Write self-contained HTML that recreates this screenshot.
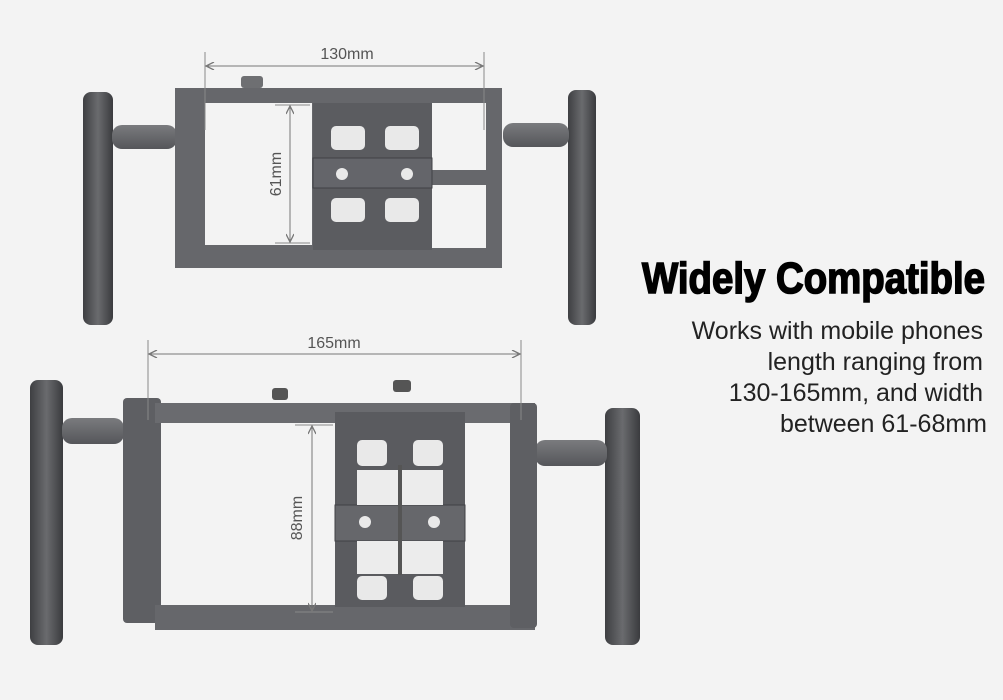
<!DOCTYPE html>
<html><head><style>
html,body{margin:0;padding:0;background:#f3f3f3;width:1003px;height:700px;overflow:hidden}
svg{position:absolute;left:0;top:0}
.t{font-family:"Liberation Sans",sans-serif}
</style></head><body>
<svg width="1003" height="700" viewBox="0 0 1003 700" xmlns="http://www.w3.org/2000/svg">
<defs>
<linearGradient id="h" x1="0" x2="1"><stop offset="0" stop-color="#3e3f42"/><stop offset=".5" stop-color="#6a6b6e"/><stop offset="1" stop-color="#3a3b3e"/></linearGradient>
<linearGradient id="m" x1="0" y1="0" x2="0" y2="1"><stop offset="0" stop-color="#7a7b7e"/><stop offset="1" stop-color="#55565a"/></linearGradient>
<marker id="a" markerWidth="10" markerHeight="8" refX="9" refY="4" orient="auto-start-reverse" markerUnits="userSpaceOnUse"><path d="M1,0 L9,4 L1,8" fill="none" stroke="#777" stroke-width="1.3"/></marker>
</defs>
<!-- TOP RIG -->
<rect x="83" y="92" width="30" height="233" rx="8" fill="url(#h)"/>
<rect x="112" y="125" width="65" height="24" rx="10" fill="url(#m)"/>
<rect x="568" y="90" width="28" height="235" rx="8" fill="url(#h)"/>
<rect x="503" y="123" width="66" height="24" rx="10" fill="url(#m)"/>
<path fill-rule="evenodd" fill="#66676b" d="M175,88 H502 V268 H175 Z M205,103 H312 V245 H205 Z M432,103 H486 V170 H432 Z M432,185 H486 V248 H432 Z"/>
<rect x="313" y="103" width="119" height="147" fill="#5b5c60"/>
<rect x="313" y="158" width="119" height="30" fill="#64656a" stroke="#404145"/>
<rect x="331" y="126" width="34" height="24" rx="5" fill="#e9e9e9"/><rect x="385" y="126" width="34" height="24" rx="5" fill="#e9e9e9"/>
<rect x="331" y="198" width="34" height="24" rx="5" fill="#e9e9e9"/><rect x="385" y="198" width="34" height="24" rx="5" fill="#e9e9e9"/>
<circle cx="342" cy="174" r="6" fill="#e9e9e9"/><circle cx="407" cy="174" r="6" fill="#e9e9e9"/>
<rect x="241" y="76" width="22" height="12" rx="3" fill="#6e6f72"/>
<!-- dims top -->
<line x1="205" y1="52" x2="205" y2="130" stroke="#888"/><line x1="484" y1="52" x2="484" y2="130" stroke="#888"/>
<line x1="206" y1="66" x2="483" y2="66" stroke="#777" marker-start="url(#a)" marker-end="url(#a)"/>
<text x="347" y="59" class="t" font-size="16" fill="#555" text-anchor="middle">130mm</text>
<line x1="275" y1="105" x2="310" y2="105" stroke="#888"/><line x1="275" y1="243" x2="310" y2="243" stroke="#888"/>
<line x1="290" y1="106" x2="290" y2="242" stroke="#777" marker-start="url(#a)" marker-end="url(#a)"/>
<text x="281" y="174" class="t" font-size="16" fill="#555" text-anchor="middle" transform="rotate(-90 281 174)">61mm</text>
<!-- BOTTOM RIG -->
<rect x="30" y="380" width="33" height="265" rx="8" fill="url(#h)"/>
<rect x="62" y="418" width="62" height="26" rx="10" fill="url(#m)"/>
<rect x="605" y="408" width="35" height="237" rx="8" fill="url(#h)"/>
<rect x="535" y="440" width="72" height="26" rx="10" fill="url(#m)"/>
<rect x="123" y="398" width="38" height="225" rx="4" fill="#5e5f63"/>
<rect x="155" y="403" width="380" height="20" fill="#6a6b6f"/>
<rect x="155" y="605" width="380" height="25" fill="#66676b"/>
<rect x="510" y="403" width="27" height="225" rx="4" fill="#5e5f63"/>
<rect x="335" y="412" width="130" height="195" fill="#5a5b5f"/>
<rect x="335" y="505" width="130" height="36" fill="#66676b" stroke="#404145"/>
<rect x="357" y="440" width="30" height="26" rx="5" fill="#e9e9e9"/><rect x="413" y="440" width="30" height="26" rx="5" fill="#e9e9e9"/>
<rect x="357" y="576" width="30" height="24" rx="5" fill="#e9e9e9"/><rect x="413" y="576" width="30" height="24" rx="5" fill="#e9e9e9"/>
<rect x="357" y="470" width="86" height="35" fill="#ececec"/><rect x="357" y="541" width="86" height="33" fill="#ececec"/>
<rect x="398" y="465" width="4" height="110" fill="#555"/>
<circle cx="365" cy="522" r="6" fill="#e9e9e9"/><circle cx="434" cy="522" r="6" fill="#e9e9e9"/>
<rect x="393" y="380" width="18" height="12" rx="3" fill="#555"/><rect x="272" y="388" width="16" height="12" rx="3" fill="#555"/>
<!-- dims bottom -->
<line x1="148" y1="340" x2="148" y2="420" stroke="#888"/><line x1="521" y1="340" x2="521" y2="420" stroke="#888"/>
<line x1="149" y1="354" x2="520" y2="354" stroke="#777" marker-start="url(#a)" marker-end="url(#a)"/>
<text x="334" y="348" class="t" font-size="16" fill="#555" text-anchor="middle">165mm</text>
<line x1="295" y1="425" x2="333" y2="425" stroke="#888"/><line x1="295" y1="612" x2="333" y2="612" stroke="#888"/>
<line x1="312" y1="426" x2="312" y2="611" stroke="#777" marker-start="url(#a)" marker-end="url(#a)"/>
<text x="302" y="518" class="t" font-size="16" fill="#555" text-anchor="middle" transform="rotate(-90 302 518)">88mm</text>
<!-- TEXT -->
<text x="985" y="293" font-family="Liberation Sans Narrow,Liberation Sans,sans-serif" font-weight="bold" font-size="44" fill="#000" stroke="#000" stroke-width="1.6" text-anchor="end" textLength="343" lengthAdjust="spacingAndGlyphs">Widely Compatible</text>
<g class="t" font-size="25" fill="#222" text-anchor="end">
<text x="983" y="339">Works with mobile phones</text>
<text x="983" y="370">length ranging from</text>
<text x="983" y="401">130-165mm, and width</text>
<text x="987" y="432">between 61-68mm</text>
</g>
</svg>
</body></html>
